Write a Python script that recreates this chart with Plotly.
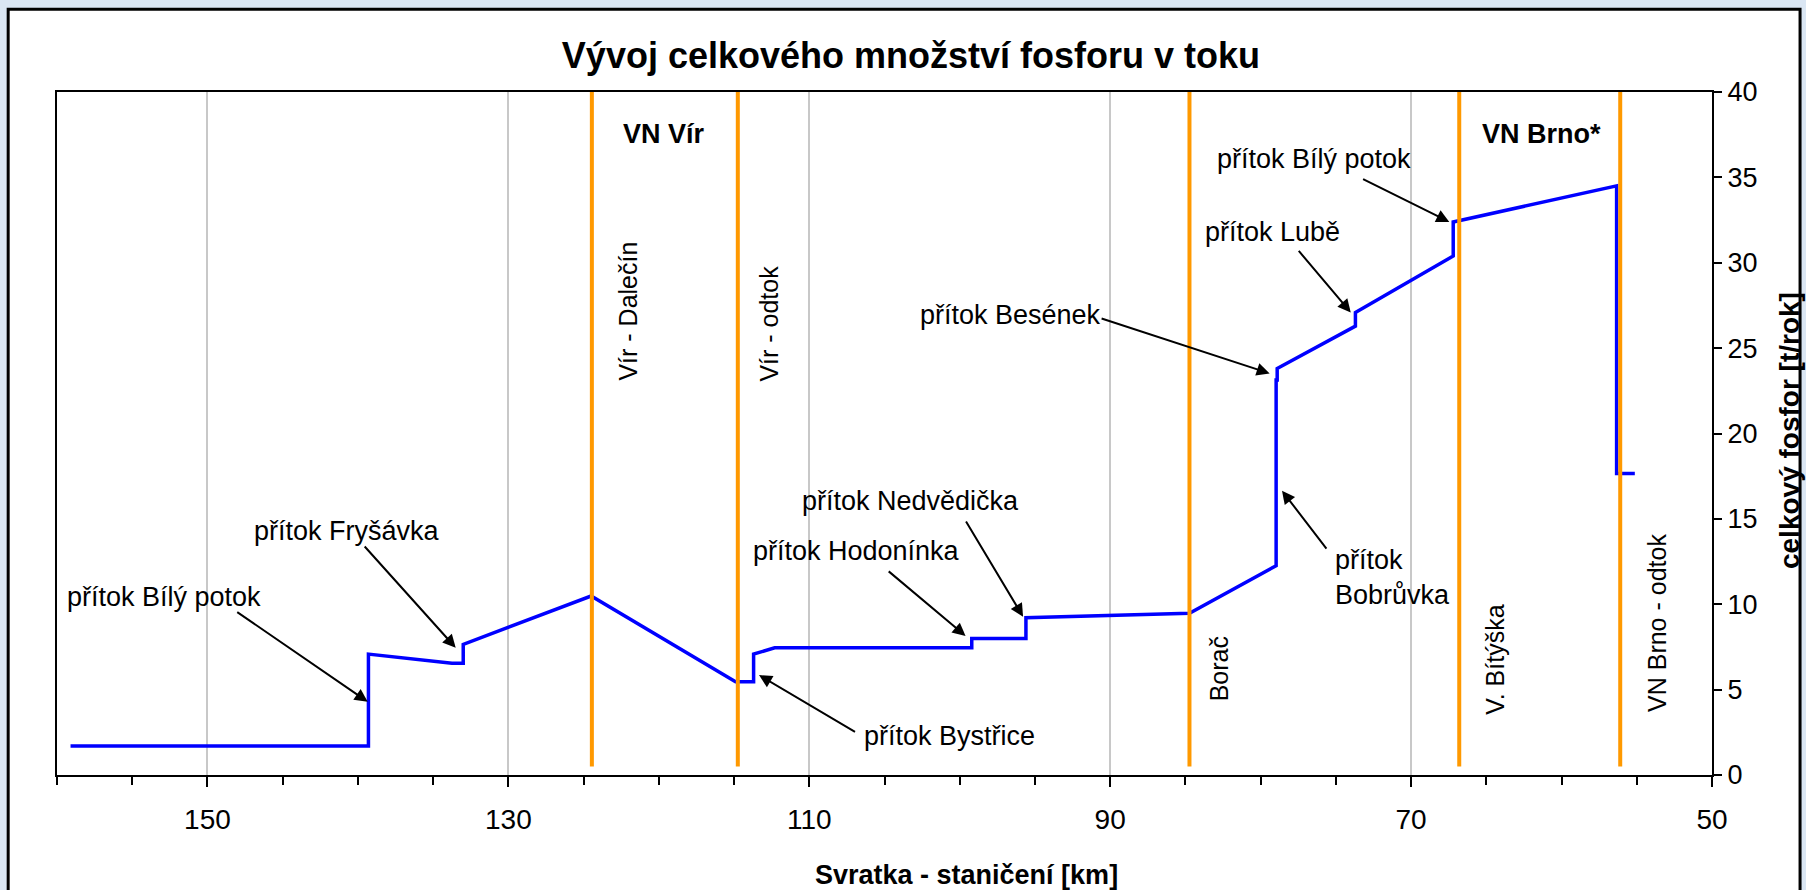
import plotly.graph_objects as go

# ---------------- data ----------------
# blue line: total phosphorus along the Svratka river (km, t/year)
river_km = [159.1, 139.3, 139.3, 133.75, 133.0, 133.0, 124.5, 114.9, 113.7, 113.7,
            112.3, 99.2, 99.2, 95.6, 95.6, 84.73, 78.97, 78.97, 78.9, 78.9,
            73.7, 73.7, 67.2, 67.2, 56.34, 56.34, 55.13]
phosphorus = [1.7, 1.7, 7.08, 6.54, 6.54, 7.65, 10.48, 5.46, 5.46, 7.08,
              7.45, 7.45, 8.0, 8.0, 9.21, 9.47, 12.26, 23.13, 23.13, 23.81,
              26.29, 27.09, 30.39, 32.39, 34.5, 17.66, 17.66]

# orange vertical lines (profiles / reservoir boundaries)
profile_km = [124.45, 114.75, 84.73, 66.8, 56.1]
profile_bottom = 0.5
profile_top = 40

# x-axis labels
x_tickvals = [150, 130, 110, 90, 70, 50]
x_ticktext = ["150", "130", "110", "90", "70", "50"]

# tributary labels (horizontal text)
trib_text = ["přítok Bílý potok", "přítok Fryšávka", "přítok Bystřice", "přítok Hodonínka",
             "přítok Nedvědička", "přítok Besének", "přítok Lubě", "přítok Bílý potok"]
trib_km = [152.89, 140.70, 100.71, 106.88, 103.3, 96.65, 79.24, 76.45]
trib_val = [10.42, 14.29, 2.28, 13.11, 16.04, 26.93, 31.79, 36.07]

# arrows (tail -> head)
arrow_tail_km = [148.12, 139.64, 106.86, 104.82, 99.64, 90.67, 75.55, 77.55, 73.29]
arrow_tail_val = [9.60, 13.47, 2.48, 12.0, 14.93, 26.76, 13.17, 30.78, 34.94]
arrow_head_km = [139.35, 133.50, 113.34, 99.61, 95.79, 79.40, 78.58, 74.01, 67.46]
arrow_head_val = [4.29, 7.45, 5.85, 8.14, 9.27, 23.52, 16.65, 27.09, 32.39]

# bold reservoir names
res_text = ["VN Vír", "VN Brno*"]
res_km = [119.64, 61.30]
res_val = [37.53, 37.53]

# vertical profile names
prof_text = ["Vír - Dalečín", "Vír - odtok", "Borač", "V. Bítýška", "VN Brno - odtok"]
prof_km = [122.07, 112.66, 82.8, 64.45, 53.66]
prof_val = [27.18, 26.45, 6.22, 6.73, 8.9]

FONT = "Liberation Sans, Arial, sans-serif"
PAPER = "#DAE6F3"

fig = go.Figure()

fig.add_trace(go.Scatter(x=river_km, y=phosphorus, mode="lines",
                         line=dict(color="#0000FF", width=3.5), hoverinfo="skip",
                         showlegend=False))

for k in profile_km:
    fig.add_trace(go.Scatter(x=[k, k], y=[profile_bottom, profile_top], mode="lines",
                             line=dict(color="#FF9900", width=4), hoverinfo="skip",
                             showlegend=False))

ann = []
for t, k, v in zip(trib_text, trib_km, trib_val):
    ann.append(dict(x=k, y=v, xref="x", yref="y", text=t, showarrow=False,
                    xanchor="center", yanchor="middle",
                    font=dict(family=FONT, size=27, color="black")))
ann.append(dict(x=75.16, y=11.59, xref="x", yref="y", text="přítok<br>Bobrůvka",
                showarrow=False, xanchor="left", yanchor="middle", align="left",
                font=dict(family=FONT, size=27, color="black")))
for tk, tv, hk, hv in zip(arrow_tail_km, arrow_tail_val, arrow_head_km, arrow_head_val):
    ann.append(dict(x=hk, y=hv, ax=tk, ay=tv, xref="x", yref="y", axref="x", ayref="y",
                    text="", showarrow=True, arrowhead=2, arrowsize=1.3, arrowwidth=2,
                    arrowcolor="black", standoff=0, startstandoff=0))
for t, k, v in zip(res_text, res_km, res_val):
    ann.append(dict(x=k, y=v, xref="x", yref="y", text="<b>" + t + "</b>", showarrow=False,
                    xanchor="center", yanchor="middle",
                    font=dict(family=FONT, size=27, color="black")))
for t, k, v in zip(prof_text, prof_km, prof_val):
    ann.append(dict(x=k, y=v, xref="x", yref="y", text=t, showarrow=False, textangle=-90,
                    xanchor="center", yanchor="middle",
                    font=dict(family=FONT, size=25, color="black")))

# axis titles
ann.append(dict(x=0.5494, y=-0.146, xref="paper", yref="paper",
                text="<b>Svratka - staničení [km]</b>", showarrow=False,
                xanchor="center", yanchor="middle",
                font=dict(family=FONT, size=27, color="black")))
ann.append(dict(x=1.0465, y=0.505, xref="paper", yref="paper",
                text="<b>celkový fosfor [t/rok]</b>", showarrow=False, textangle=-90,
                xanchor="center", yanchor="middle",
                font=dict(family=FONT, size=28, color="black")))

fig.update_layout(
    width=1806, height=890,
    margin=dict(l=57, r=94, t=92, b=115),
    paper_bgcolor=PAPER,
    plot_bgcolor="white",
    title=dict(text="<b>Vývoj celkového množství fosforu v toku</b>",
               x=0.5044, xref="container", xanchor="center",
               y=1 - 55 / 890, yref="container", yanchor="middle",
               font=dict(family=FONT, size=36, color="black")),
    annotations=ann,
    shapes=[dict(type="rect", xref="paper", yref="paper",
                 x0=-0.0295, x1=1.0532, y0=-0.18, y1=1.121,
                 fillcolor="white", line=dict(color="black", width=3), layer="below")],
    showlegend=False,
)

fig.update_xaxes(range=[160, 50], tickvals=x_tickvals, ticktext=x_ticktext,
                 showgrid=True, gridcolor="#C8C8C8", gridwidth=2,
                 showline=True, linecolor="black", linewidth=2, mirror=True,
                 ticks="outside", ticklen=10, tickwidth=2, tickcolor="black",
                 ticklabelstandoff=8,
                 minor=dict(tick0=0, dtick=5, ticks="outside", ticklen=8, tickwidth=2,
                            tickcolor="black", showgrid=False),
                 tickfont=dict(family=FONT, size=28, color="black"),
                 zeroline=False)
fig.update_yaxes(range=[0, 40], dtick=5, side="right", showgrid=False,
                 showline=True, linecolor="black", linewidth=2, mirror=True,
                 ticks="outside", ticklen=8, tickwidth=2, tickcolor="black",
                 tickfont=dict(family=FONT, size=27, color="black"),
                 zeroline=False)

fig.write_html("out.html",
               config={"displayModeBar": False},
               post_script="document.body.style.margin='0';"
                           "document.body.style.overflow='hidden';"
                           "document.body.style.background='" + PAPER + "';")
